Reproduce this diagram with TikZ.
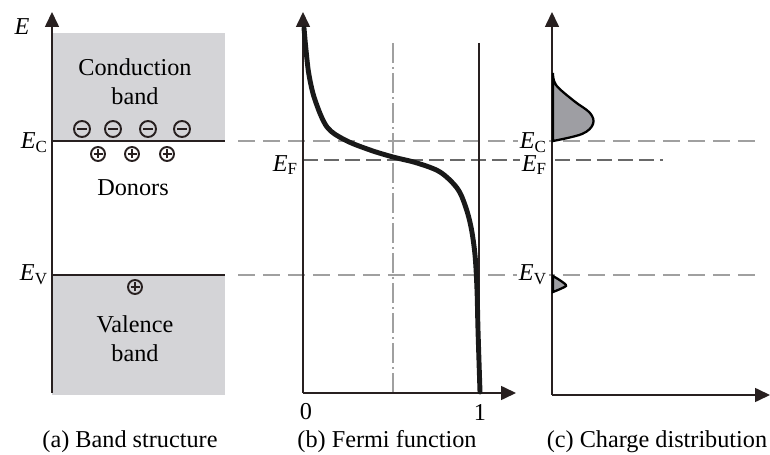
\documentclass[tikz,border=0pt]{standalone}
\usepackage{fontspec}
\setmainfont{Liberation Serif}[Ligatures=TeX]
\usetikzlibrary{arrows.meta,positioning}
\definecolor{bandgray}{RGB}{212,212,215}
\definecolor{chargegray}{RGB}{158,158,163}
\definecolor{axisgray}{RGB}{40,32,32}
\definecolor{guidegray}{RGB}{160,160,160}
\definecolor{fermigray}{RGB}{105,105,105}
\newcommand{\lev}[1]{\textit{E}\textsubscript{#1}}

\begin{document}
\begin{tikzpicture}[x=0.02cm, y=-0.02cm,
    txt/.style={font=\rmfamily\fontsize{13.8}{16.5}\selectfont, inner sep=1pt},
    axis/.style={draw=axisgray, line width=0.9pt, -{Triangle[length=0.3cm, width=0.28cm]}},
    levelline/.style={draw=axisgray, line width=1pt},
    guide/.style={draw=guidegray, line width=0.6pt, dash pattern=on 0.34cm off 0.16cm},
    fermidash/.style={draw=fermigray, line width=1.1pt, dash pattern=on 0.3cm off 0.12cm},
    dashdot/.style={draw=guidegray, line width=0.6pt, dash pattern=on 0.4cm off 0.08cm on 0.04cm off 0.08cm},
    elec/.style={circle, draw=axisgray, line width=1.1pt, minimum size=0.32cm, inner sep=0pt,
        path picture={\draw[line width=1.6pt] ([xshift=-0.1cm]path picture bounding box.center) -- ([xshift=0.1cm]path picture bounding box.center);}},
    donor/.style={circle, draw=axisgray, line width=1.1pt, minimum size=0.28cm, inner sep=0pt,
        path picture={\draw[line width=1.4pt] ([xshift=-0.09cm]path picture bounding box.center) -- ([xshift=0.09cm]path picture bounding box.center)
            ([yshift=-0.09cm]path picture bounding box.center) -- ([yshift=0.09cm]path picture bounding box.center);}}]
    \useasboundingbox (0,0) rectangle (770,455);

    % Bands
    \fill[bandgray] (52,33) rectangle (225,141);
    \fill[bandgray] (52,275) rectangle (225,395);

    % Guide lines
    \draw[guide] (238,141) -- (755,141);
    \draw[guide] (238,275) -- (755,275);
    \draw[fermidash] (303,160) -- (663,160);
    \draw[dashdot] (393,43) -- (393,393);
    \draw[draw=axisgray, line width=0.6pt] (479,43) -- (479,393);

    % Axes
    \draw[axis] (52,393) -- (52,12);
    \draw[axis] (303,393) -- (303,12);
    \draw[axis] (303,393) -- (516,393);
    \draw[axis] (552,395) -- (552,12);
    \draw[axis] (552,395) -- (770,395);

    % Band edges
    \draw[levelline] (52,141) -- (225,141);
    \draw[levelline] (52,275) -- (225,275);

    % Carriers
    \foreach \x [count=\i] in {82,113,148,182}
        \node[elec] (e\i) at (\x,129) {};
    \foreach \x [count=\i] in {98,132,167}
        \node[donor] (d\i) at (\x,154) {};
    \node[donor] (h1) at (135,287) {};

    % Fermi function
    \draw[line width=2.8pt, black!90, line cap=round] plot[smooth, tension=0.55] coordinates {
        (304,28) (306,50) (309,75) (315,100) (327,127) (345,140) (370,150) (393,157)
        (417,163) (440,172) (457,188) (465,205) (471,227) (475,255) (477,290) (478,330) (480,392)};

    % Charge distribution
    \filldraw[fill=chargegray, draw=black, line width=1.3pt] plot[smooth, tension=0.6] coordinates {
        (553,73) (556,85) (574,101) (590,113) (593,124) (582,134) (553,141)} -- cycle;
    \filldraw[fill=chargegray, draw=black, line width=1.3pt] plot[smooth, tension=0.4] coordinates {
        (553,276) (561,281) (566,286) (553,292)} -- cycle;

    % Labels
    \node[txt] (elab) at (22,27) {\textit{E}};
    \node[txt, anchor=east] (eca) at (50,143) {\lev{C}};
    \node[txt, anchor=east] (eva) at (50,275) {\lev{V}};
    \node[txt, align=center] (cband) at (135,82) {Conduction\\band};
    \node[txt] (donors) at (133,188) {Donors};
    \node[txt, align=center] (vband) at (135,339) {Valence\\band};
    \node[txt, anchor=east] (efb) at (300,165) {\lev{F}};
    \node[txt] (zero) at (306,412) {0};
    \node[txt] (one) at (480,412) {1};
    \node[txt, fill=white, anchor=east] (ecc) at (549,143) {\lev{C}};
    \node[txt, fill=white, anchor=east] (efc) at (549,165) {\lev{F}};
    \node[txt, fill=white, anchor=east] (evc) at (549,275) {\lev{V}};

    % Captions
    \node[txt] (capa) at (130,442) {(a) Band structure};
    \node[txt] (capb) at (387,442) {(b) Fermi function};
    \node[txt] (capc) at (657,442) {(c) Charge distribution};
\end{tikzpicture}
\end{document}
